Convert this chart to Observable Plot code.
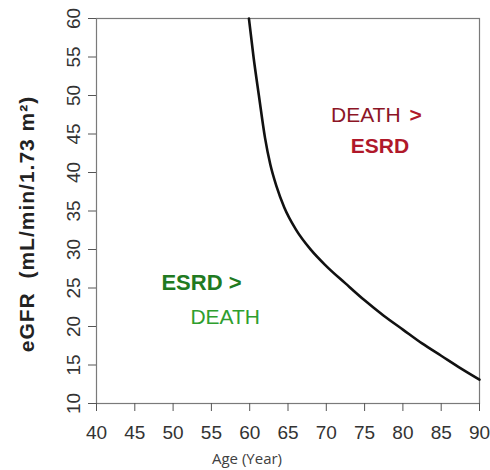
<!DOCTYPE html>
<html>
<head>
<meta charset="utf-8">
<script src="https://cdn.jsdelivr.net/npm/d3@7"></script>
<script src="https://cdn.jsdelivr.net/npm/@observablehq/plot@0.6"></script>
<style>
  html, body { margin: 0; padding: 0; background: #fff; }
  #chart svg { display: block; }
</style>
</head>
<body>
<div id="chart"></div>
<script>
// Boundary curve: age at which ESRD risk equals death risk for a given eGFR
const ages = [59.9, 60.5, 61.2, 62.0, 62.7, 63.5, 64.5, 66.0, 68.0, 70.0, 72.5, 75.0, 77.5, 80.0, 82.5, 85.0, 87.5, 90.0];
const egfr = [60, 55, 50, 44.5, 41.0, 38.2, 35.5, 32.65, 29.95, 27.85, 25.6, 23.4, 21.4, 19.6, 17.8, 16.2, 14.6, 13.1];

const xTicks = [40, 45, 50, 55, 60, 65, 70, 75, 80, 85, 90];
const yTicks = [10, 15, 20, 25, 30, 35, 40, 45, 50, 55, 60];

const xLabel = "Age (Year)";
const yLabel = "eGFR  (mL/min/1.73 m\u00B2)";

// Region annotations (data coordinates)
const redLines = ["DEATH", ">", "ESRD"];
const redAges = [79.7, 79.7, 77.0];
const redEgfr = [47.4, 47.4, 43.4];
const greenLines = ["ESRD >", "DEATH"];
const greenAges = [53.7, 56.8];
const greenEgfr = [25.6, 21.2];

const curve = ages.map((a, i) => ({age: a, egfr: egfr[i]}));
const font = "'Liberation Sans', Arial, sans-serif";

const plot = Plot.plot({
  width: 490,
  height: 470,
  marginLeft: 96,
  marginRight: 11,
  marginTop: 18,
  marginBottom: 67,
  style: {fontFamily: font, background: "#fff"},
  x: {domain: [40, 90], axis: null},
  y: {domain: [10, 60], axis: null},
  marks: [
    Plot.frame({stroke: "#7a7a7a", strokeWidth: 1.2}),
    Plot.axisX(xTicks, {tickSize: 8, tickFormat: () => "", stroke: "#555", label: null}),
    Plot.axisY(yTicks, {tickSize: 8, tickFormat: () => "", stroke: "#555", label: null}),
    // tick labels
    Plot.text(xTicks, {x: d => d, text: d => String(d), frameAnchor: "bottom", dy: 29,
      lineAnchor: "middle", fontSize: 19, fill: "#333"}),
    Plot.text(yTicks, {y: d => d, text: d => String(d), frameAnchor: "left", dx: -23,
      rotate: -90, textAnchor: "middle", lineAnchor: "middle", fontSize: 19, fill: "#333"}),
    // axis titles
    Plot.text([xLabel], {text: d => d, frameAnchor: "bottom", dx: -41, dy: 56,
      lineAnchor: "middle", fontSize: 15, fill: "#404040", fontFamily: "'Open Sans', 'Noto Sans', sans-serif"}),
    Plot.text([yLabel], {text: d => d, frameAnchor: "left", dx: -69, dy: 13,
      rotate: -90, textAnchor: "middle", lineAnchor: "middle", fontSize: 21, fontWeight: "bold", fill: "#222"}),
    // boundary curve
    Plot.line(curve, {x: "age", y: "egfr", stroke: "#111", strokeWidth: 2.6, curve: "monotone-x"}),
    // annotations
    Plot.text([0], {x: redAges[0], y: redEgfr[0], text: () => redLines[0], textAnchor: "end",
      lineAnchor: "middle", fontSize: 21, fill: "#8c1526"}),
    Plot.text([1], {x: redAges[1], y: redEgfr[1], text: () => redLines[1], textAnchor: "start", dx: 9,
      lineAnchor: "middle", fontSize: 21, fontWeight: "bold", fill: "#b0182a"}),
    Plot.text([2], {x: redAges[2], y: redEgfr[2], text: () => redLines[2], textAnchor: "middle",
      lineAnchor: "middle", fontSize: 21, fontWeight: "bold", fill: "#b0182a"}),
    Plot.text([0], {x: greenAges[0], y: greenEgfr[0], text: () => greenLines[0], textAnchor: "middle",
      lineAnchor: "middle", fontSize: 22, fontWeight: "bold", fill: "#217a21"}),
    Plot.text([1], {x: greenAges[1], y: greenEgfr[1], text: () => greenLines[1], textAnchor: "middle",
      lineAnchor: "middle", fontSize: 21, fill: "#2e9e2e"})
  ]
});

// slight extra spacing on the y-axis title to match the reference's longer label
d3.select(plot).selectAll("text")
  .filter(function() { return this.textContent === yLabel; })
  .style("letter-spacing", "1px");

document.getElementById("chart").appendChild(plot);
</script>
</body>
</html>
